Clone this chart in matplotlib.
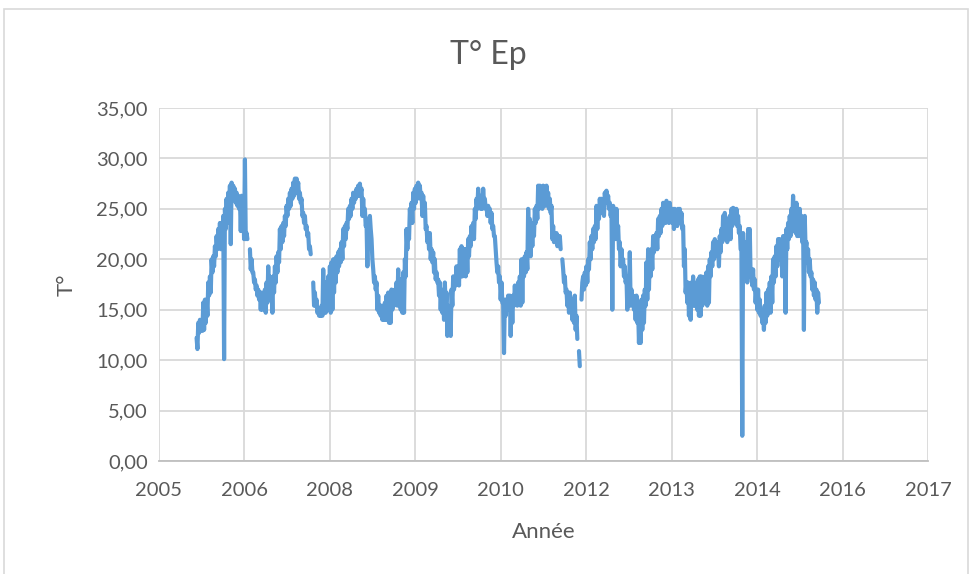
import numpy as np
import pandas as pd
import matplotlib
matplotlib.use("Agg")
from matplotlib import pyplot as plt
import matplotlib.dates as mdates
from matplotlib.ticker import FuncFormatter
from matplotlib.patches import Rectangle

nan = np.nan

# temperature readings, one every ~4.9 days, nan = no data
temp_2005_07 = [
    12.2, 11.1, 13.7, 12.7, 14.0, 13.0, 13.7, 12.9, 15.7, 13.0, 16.0, 13.7, 16.0, 14.4,
    17.7, 16.4, 18.3, 16.7, 20.0, 18.7, 20.3, 19.3, 21.3, 20.3, 22.3, 21.0, 23.0, 21.7,
    23.6, 21.0, 23.6, 22.3, 24.3, 10.1, 25.0, 23.0, 26.0, 23.6, 26.6, 24.3, 27.3, 21.5,
    27.6, 26.3, 27.3, 26.0, 27.0, 25.6, 26.6, 25.3, 26.3, 25.0, 26.0, 22.8, 26.3, 24.3,
    25.6, 22.0, 29.9, 22.0, 22.6, 22.0, nan, nan, 21.0, 19.0, 20.0, 18.7, 18.7, 17.7,
    18.0, 17.0, 17.4, 16.4, 17.0, 16.0, 16.7, 15.0, 16.7, 15.0, 16.4, 15.4, 17.0, 14.7,
    17.7, 15.7, 19.3, 16.0, 18.3, 16.4, 17.4, 14.7, 18.3, 16.7, 19.3, 17.7, 20.3, 18.7,
    20.7, 19.7, 23.0, 21.0, 23.3, 21.7, 23.6, 22.3, 24.3, 23.3, 25.3, 24.3, 26.0, 25.0,
    26.6, 25.3, 27.0, 26.0, 27.6, 26.3,
]
temp_2007_08 = [
    28.0, 26.6, 28.0, 27.0, 27.6, 26.0, 26.6, 25.6, 26.0, 24.3, 24.6, 23.6, 24.3, 23.0,
    23.3, 22.3, 22.6, 21.0, 21.3, 20.5, nan, nan, 17.7, 15.4, 16.7, 15.4, 16.0, 14.7,
    15.0, 14.4, 15.0, 14.4, 15.4, 14.4, 19.0, 14.7, 17.7, 14.7, 17.0, 15.0, 18.3, 15.0,
]
temp_2008_10 = [
    19.3, 14.7, 19.7, 15.0, 20.0, 16.7, 20.0, 17.7, 20.3, 18.7, 20.7, 19.3, 21.0, 19.7,
    21.7, 20.0, 23.0, 21.3, 23.3, 22.0, 23.6, 23.0, 25.0, 24.0, 25.3, 24.3, 26.0, 25.0,
    26.6, 25.6, 26.6, 26.0, 27.0, 26.3, 27.3, 26.3, 27.5, 26.6, 27.0, 24.3, 26.0, 24.3,
    25.0, 23.3, 23.6, 19.3, 24.0, 23.0, 24.3, 23.0, 22.0, 20.0, 19.0, 17.7, 18.3, 17.0,
    17.7, 15.0, 16.4, 14.7, 15.4, 14.4, 15.4, 14.0, 15.0, 14.0, 15.7, 14.0, 16.4, 14.0,
    16.7, 13.7, 16.4, 13.7, 17.0, 15.0, 16.7, 15.4, 17.0, 15.7, 17.7, 15.4, 19.0, 15.7,
    18.0, 15.0, 17.7, 14.7, 18.7, 14.7, 20.0, 18.3, 23.0, 21.0, 23.0, 22.0, 25.0, 23.6,
    25.6, 23.6, 26.6, 25.0, 27.0, 25.6, 27.3, 26.0, 27.6, 26.6, 27.3, 26.0, 26.6, 24.3,
    26.3, 24.3, 25.6, 23.0, 23.3, 21.7, 22.6, 21.0, 22.6, 20.0, 21.0, 19.7, 20.7, 18.7,
    20.0, 18.0, 18.7, 17.7, 18.0, 16.4, 17.7, 15.0, 17.0, 14.7, 16.4, 14.0, 17.7, 15.0,
    16.7, 12.4, 15.4, 13.0, 15.0, 12.4, 17.0, 15.4, 18.3, 17.0, 18.3, 17.4, 19.3, 17.7,
    19.3, 17.4, 21.0, 18.3, 21.3, 18.3, 21.0, 18.7, 21.0, 18.3, 21.0, 18.7, 22.0, 20.3,
    22.3, 21.3, 23.3, 22.0, 23.6, 22.0, 25.0, 24.0, 26.0, 25.0, 27.0, 25.6, 26.3, 25.0,
    26.0, 25.0, 27.0, 25.6, 26.0, 25.0, 25.3, 24.3, 25.3, 24.3, 25.0, 23.6, 24.6, 23.0,
    23.3, 22.3, 22.3, 21.0, 19.7, 18.7, 19.3, 17.7, 18.3, 16.0, 17.7, 15.7, 15.7, 10.7,
    16.0, 14.4, 16.0, 15.4, 16.4, 15.0, 16.4, 12.4, 16.0, 13.7, 16.4, 15.4, 17.4, 15.7,
    17.0, 15.4, 17.7, 15.7,
]
temp_2010_13 = [
    18.3, 15.4, 20.0, 15.7, 20.0, 18.3, 20.3, 18.7, 20.7, 19.0, 25.0, 21.7, 24.0, 20.3,
    23.3, 21.3, 23.6, 22.3, 25.0, 23.6, 25.3, 24.0, 27.3, 25.0, 27.3, 26.0, 26.3, 25.0,
    27.3, 26.0, 27.0, 25.3, 27.3, 25.6, 26.6, 25.0, 26.0, 24.6, 25.3, 22.0, 23.3, 21.7,
    22.3, 21.7, 22.6, 21.3, 22.3, 21.3, 22.3, 21.0, nan, 20.0, 19.0, 17.7, 18.3, 16.7,
    17.0, 15.4, 16.7, 14.7, 16.7, 15.7, 16.0, 14.0, 15.4, 13.7, 16.4, 13.0, 14.4, 12.1,
    nan, 10.9, 9.4, nan, 16.0, 17.7, 18.3, 17.0, 18.7, 17.4, 19.3, 17.7, 20.0, 19.0,
    21.7, 20.0, 22.3, 21.0, 23.0, 21.7, 23.3, 22.0, 25.3, 23.0, 25.0, 24.0, 26.0, 24.6,
    26.0, 25.0, 25.6, 24.3, 26.6, 25.6, 26.8, 25.6, 26.3, 25.0, 25.6, 24.3, 25.0, 15.0,
    25.3, 23.6, 24.6, 22.0, 25.0, 22.6, 23.3, 21.0, 21.7, 19.3, 21.0, 19.7, 20.0, 18.3,
    19.3, 17.7, 18.3, 15.0, 18.3, 15.7, 20.7, 15.4, 17.0, 15.7, 16.4, 15.0, 16.0, 14.0,
    16.4, 13.7, 15.0, 11.7, 15.0, 11.7, 16.0, 13.0, 16.4, 13.7, 17.0, 15.4, 19.7, 16.0,
    21.0, 17.0, 20.7, 18.3, 21.0, 19.0, 22.3, 20.7, 22.3, 21.0, 22.6, 21.0, 24.0, 22.3,
    24.3, 22.6, 25.0, 23.3, 25.6, 24.0, 25.0, 23.6, 25.8, 24.3, 25.3, 23.6, 25.6, 24.3,
    25.0, 23.6, 25.0, 23.0, 25.0, 23.6, 24.6, 23.3, 25.0, 23.6, 25.0, 23.6, 24.6, 23.0,
    23.3, 19.3, 21.0, 16.7, 17.7, 15.7, 17.7, 14.4, 17.0, 14.0, 17.7, 15.4, 18.3, 15.4,
    17.4, 15.4, 17.7, 15.0, 18.0, 14.4,
]
temp_2013_15 = [
    18.3, 14.4, 18.3, 15.4, 17.7, 15.7, 18.3, 16.0, 18.7, 15.4, 19.3, 15.7, 20.0, 18.3,
    20.7, 19.3, 21.7, 20.0, 22.0, 21.0, 21.7, 20.3, 21.0, 19.3, 22.3, 20.7, 23.0, 21.7,
    24.3, 22.0, 24.6, 23.0, 23.6, 21.7, 24.0, 22.6, 24.3, 22.0, 25.0, 23.3, 25.1, 24.0,
    25.0, 23.6, 25.0, 23.3, 24.3, 22.6, 23.3, 21.0, 21.0, 2.5, 22.6, 18.3, 21.7, 19.3,
    21.0, 17.7, 23.0, 20.7, 23.0, 18.3, 18.7, 17.4, 19.0, 17.0, 18.0, 15.7, 17.0, 15.0,
    17.0, 14.7, 16.0, 14.4, 15.0, 13.7, 14.7, 13.0, 15.4, 13.7, 16.7, 14.4, 17.0, 15.0,
    17.7, 14.7, 18.3, 15.7, 20.0, 17.7, 20.3, 18.3, 21.3, 19.3, 22.0, 20.0, 22.0, 20.3,
    21.0, 18.3, 22.3, 20.3, 22.3, 14.7, 23.0, 21.0, 23.6, 22.0, 24.3, 22.3, 25.0, 23.3,
    26.3, 24.0, 25.3, 22.6, 25.6, 22.3, 24.6, 22.3, 25.0, 23.3, 24.3, 21.7, 24.0, 13.0,
    24.3, 21.0, 21.7, 19.7, 21.0, 18.7, 20.0, 18.3, 18.7, 17.0, 18.0, 16.4, 17.7, 16.0,
    17.0, 14.7, 16.7, 15.7,
]

start_date = "2005-12-07"
axis_start = "2005-05-01"
tick_step_days = 500
n_ticks = 10

temps = np.array(temp_2005_07 + temp_2007_08 + temp_2008_10 + temp_2010_13 + temp_2013_15)
dates = pd.date_range(start_date, periods=len(temps), freq="117h")

grey_txt = "#595959"
grid_col = "#D9D9D9"
plt.rcParams["font.family"] = ["Lato", "DejaVu Sans"]

fig = plt.figure(figsize=(9.7, 5.74), dpi=100)
fig.patches.append(Rectangle((4 / 970, -0.01), 964 / 970, 1 - 9 / 574 + 0.01,
                             transform=fig.transFigure, fill=False,
                             edgecolor=grid_col, linewidth=1.2))

ax = fig.add_axes([159 / 970, 1 - 461 / 574, 769 / 970, 353 / 574])
ax.plot(dates, temps, color="#5B9BD5", lw=3.0,
        solid_capstyle="round", solid_joinstyle="round", zorder=3)

x0 = pd.Timestamp(axis_start)
ticks = [x0 + pd.Timedelta(days=tick_step_days * i) for i in range(n_ticks)]
ax.set_xlim(ticks[0], ticks[-1])
ax.set_xticks(ticks)
ax.xaxis.set_major_formatter(mdates.DateFormatter("%Y"))

ax.set_ylim(0, 35)
ax.set_yticks(np.arange(0, 36, 5))
ax.yaxis.set_major_formatter(FuncFormatter(lambda v, p: f"{v:.2f}".replace(".", ",")))

ax.grid(True, color=grid_col, lw=1.3)
ax.set_axisbelow(True)
for s in ["top", "right", "left"]:
    ax.spines[s].set_visible(False)
ax.spines["bottom"].set_color("#BFBFBF")
ax.spines["bottom"].set_linewidth(1.3)
ax.tick_params(length=0, labelsize=14.5, colors=grey_txt)
ax.tick_params(axis="x", pad=15)
ax.tick_params(axis="y", pad=8)

ax.set_xlabel("Année", fontsize=16, color=grey_txt, labelpad=17)
ax.set_ylabel("T°", fontsize=16, color=grey_txt, labelpad=14)
fig.text(488 / 970, 1 - 55 / 574, "T° Ep", ha="center", va="center",
         fontsize=23, color=grey_txt)

fig.savefig("out.png", dpi=100)
